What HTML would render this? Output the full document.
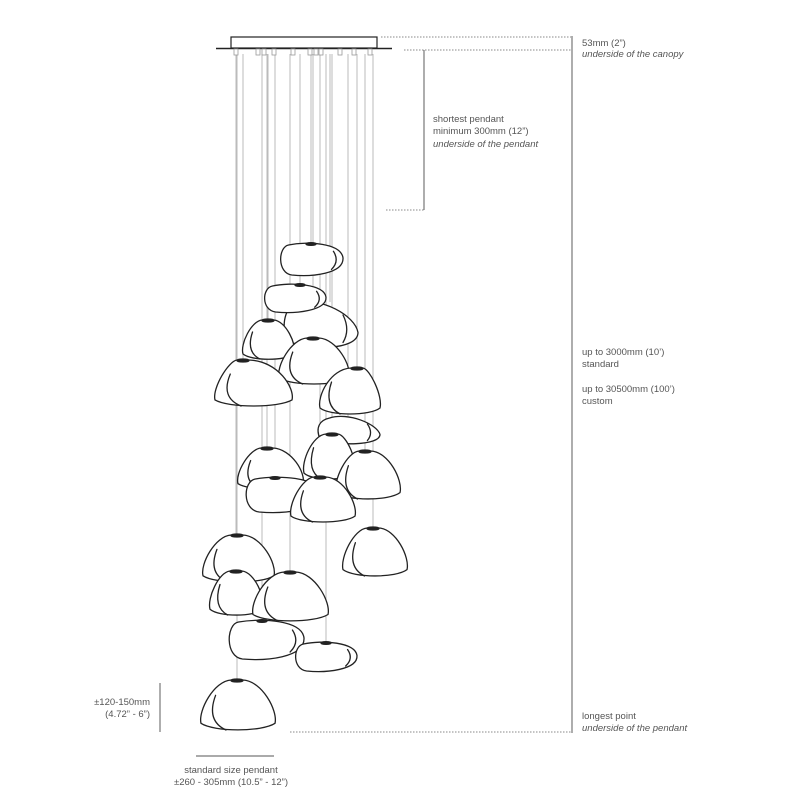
<!DOCTYPE html>
<html><head><meta charset="utf-8"><style>
html,body{margin:0;padding:0;background:#fff;}
svg{display:block}
text{font-family:"Liberation Sans",sans-serif;font-size:9.5px;fill:#555;}
.i{font-style:italic;}
</style></head><body>
<svg id="s" width="800" height="800" viewBox="0 0 800 800" xmlns="http://www.w3.org/2000/svg">
<g id="cables" stroke="#bbb" stroke-width="1"></g>
<g id="pend" stroke="#222" stroke-width="1.3" fill="#fff" stroke-linecap="round"></g>
<rect x="231" y="37" width="146" height="11" fill="#fff" stroke="#222" stroke-width="1.2"/>
<line x1="216" y1="48.5" x2="392" y2="48.5" stroke="#222" stroke-width="1.6"/>
<g id="conn" stroke="#999" fill="#fff" stroke-width="0.8"></g>
<g stroke="#888" stroke-width="1" stroke-dasharray="1.5,1.5">
<line x1="381" y1="37" x2="571" y2="37"/>
<line x1="404" y1="50" x2="571" y2="50"/>
<line x1="386" y1="210" x2="424" y2="210"/>
<line x1="290" y1="732" x2="571" y2="732"/>
</g>
<g stroke="#777" stroke-width="1.2">
<line x1="572" y1="36" x2="572" y2="733"/>
<line x1="424" y1="50" x2="424" y2="210"/>
<line x1="160" y1="683" x2="160" y2="732"/>
<line x1="196" y1="756" x2="274" y2="756"/>
</g>
<text x="582" y="46">53mm (2”)</text>
<text x="582" y="57" class="i">underside of the canopy</text>
<text x="433" y="122">shortest pendant</text>
<text x="433" y="134">minimum 300mm (12”)</text>
<text x="433" y="147" class="i">underside of the pendant</text>
<text x="582" y="355">up to 3000mm (10’)</text>
<text x="582" y="367">standard</text>
<text x="582" y="392">up to 30500mm (100’)</text>
<text x="582" y="404">custom</text>
<text x="582" y="719">longest point</text>
<text x="582" y="731" class="i">underside of the pendant</text>
<text x="150" y="705" text-anchor="end">±120-150mm</text>
<text x="150" y="717" text-anchor="end">(4.72” - 6”)</text>
<text x="231" y="773" text-anchor="middle">standard size pendant</text>
<text x="231" y="785" text-anchor="middle">±260 - 305mm (10.5” - 12”)</text>
</svg>
<script>
var P=document.getElementById('pend'),C=document.getElementById('cables'),K=document.getElementById('conn');
var NS='http://www.w3.org/2000/svg';
function el(p,t,a){var e=document.createElementNS(NS,t);for(var k in a)e.setAttribute(k,a[k]);p.appendChild(e);return e;}
var L=[
['p',279,243,343,276,311],
['b',283,300,358,350,330],
['p',263,284,326,313,300],
['d',240,320,297,360,268],
['d',276,338,352,385,313],
['d',212,360,295,407,243],
['b',317,415,380,445,348],
['d',317,368,383,415,357],
['d',235,448,306,490,267],
['d',301,434,358,480,332],
['d',333,451,403,500,365],
['p',244,477,320,513,275],
['d',288,477,358,523,320],
['d',340,528,410,577,373],
['d',200,535,277,583,237],
['d',207,571,266,616,236],
['d',250,572,331,622,290],
['p',227,620,304,660,262],
['p',294,642,357,672,326],
['d',198,680,278,731,237]
];
L.forEach(function(q){el(C,'line',{x1:q[5],y1:54,x2:q[5],y2:q[2]+2});});
[236,258,264,274,293,310,316,321,340,354,370].forEach(function(x){el(K,'rect',{x:x-2,y:49,width:4,height:6});});
L.forEach(function(q){
 var t=q[0],x1=q[1],y1=q[2],x2=q[3],y2=q[4],h=q[5],w=x2-x1,H=y2-y1,d,m=(x1+x2)/2;
 if(t=='d'){
  d='M'+(h-6)+','+y1+' C'+(m-w*0.3)+','+(y1+1)+' '+x1+','+(y1+H*0.6)+' '+(x1+3)+','+(y1+H*0.85)+
    ' C'+(x1+w*0.2)+','+(y2+1)+' '+(x2-w*0.2)+','+(y2+1)+' '+(x2-3)+','+(y1+H*0.85)+
    ' C'+x2+','+(y1+H*0.6)+' '+(m+w*0.3)+','+(y1+1)+' '+(h+6)+','+y1+' Z';
  el(P,'path',{d:d});
  el(P,'path',{d:'M'+(x1+w*0.22)+','+(y1+H*0.3)+' Q'+(x1+w*0.1)+','+(y1+H*0.8)+' '+(x1+w*0.35)+','+(y2-1),fill:'none'});
  el(P,'ellipse',{cx:h,cy:y1+0.5,rx:6,ry:1.5,fill:'#222'});
 } else if(t=='p'){
  d='M'+(x1+w*0.15)+','+(y1+2)+' C'+(x1+w*0.45)+','+(y1-2)+' '+(x2-2)+','+(y1)+' '+x2+','+(y1+H*0.45)+
    ' C'+(x2+1)+','+(y2-2)+' '+(x1+w*0.5)+','+(y2+1)+' '+(x1+w*0.2)+','+(y2-1)+
    ' C'+(x1-2)+','+(y2-3)+' '+(x1-1)+','+(y1+4)+' '+(x1+w*0.15)+','+(y1+2)+' Z';
  el(P,'path',{d:d});
  el(P,'path',{d:'M'+(x2-w*0.15)+','+(y1+H*0.25)+' Q'+(x2-w*0.05)+','+(y1+H*0.55)+' '+(x2-w*0.18)+','+(y2-H*0.2),fill:'none'});
  el(P,'ellipse',{cx:h,cy:y1+1,rx:5,ry:1.3,fill:'#222'});
 } else {
  d='M'+(x1+w*0.2)+','+(y1+3)+' C'+(x1+w*0.5)+','+(y1-3)+' '+(x2-3)+','+(y1+H*0.3)+' '+x2+','+(y1+H*0.65)+
    ' C'+(x2)+','+(y2+1)+' '+(x1+w*0.3)+','+(y2+1)+' '+(x1+3)+','+(y2-H*0.2)+
    ' C'+(x1-2)+','+(y1+H*0.4)+' '+(x1+w*0.05)+','+(y1+5)+' '+(x1+w*0.2)+','+(y1+3)+' Z';
  el(P,'path',{d:d});
  el(P,'path',{d:'M'+(x2-w*0.2)+','+(y1+H*0.3)+' Q'+(x2-w*0.1)+','+(y1+H*0.6)+' '+(x2-w*0.2)+','+(y2-H*0.15),fill:'none'});
 }
});
</script>
</body></html>
